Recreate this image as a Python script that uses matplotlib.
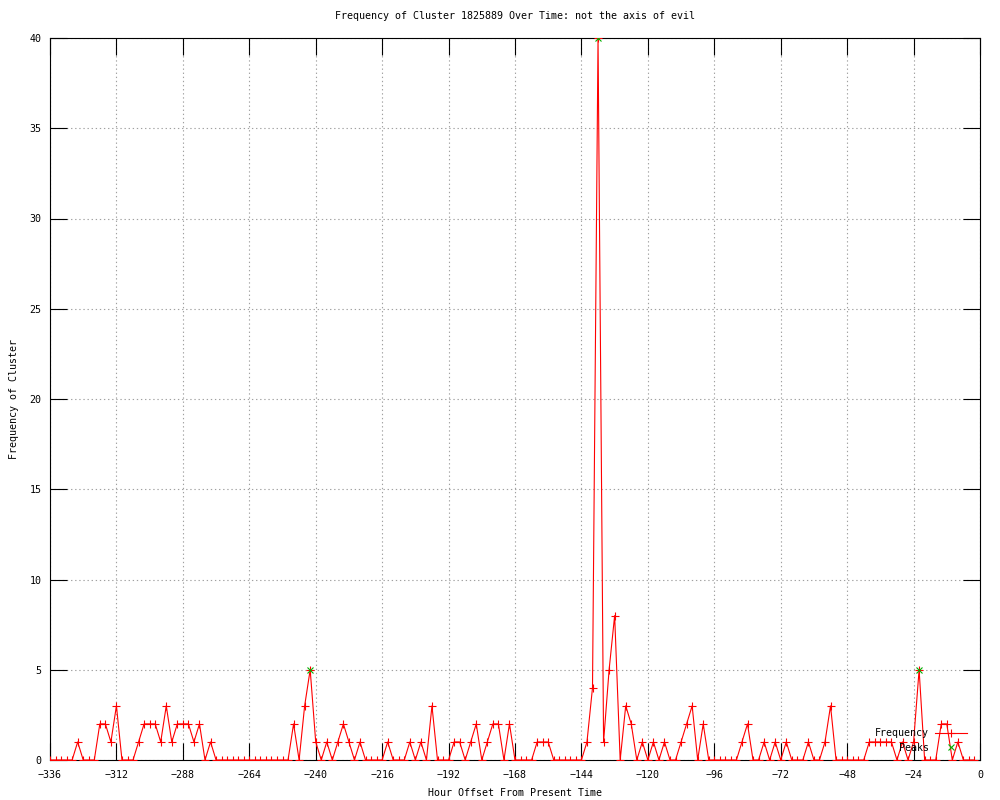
import numpy as np
import matplotlib
matplotlib.use("Agg")
import matplotlib.pyplot as plt

# hours before present, one point every 2 hours
hours = np.arange(-336, 0, 2)
freq = [0, 0, 0, 0, 0, 1, 0, 0, 0, 2, 2, 1, 3, 0, 0, 0,      # -336 .. -306
        1, 2, 2, 2, 1, 3, 1, 2, 2, 2, 1, 2, 0, 1, 0,          # -304 .. -276
        0, 0, 0, 0, 0, 0, 0, 0, 0, 0, 0, 0, 0,                # -274 .. -250
        2, 0, 3, 5, 1, 0, 1, 0, 1, 2, 1, 0, 1, 0, 0, 0, 0,    # -248 .. -216
        1, 0, 0, 0, 1, 0, 1, 0, 3, 0, 0, 0,                   # -214 .. -192
        1, 1, 0, 1, 2, 0, 1, 2, 2, 0, 2, 0,                   # -190 .. -168
        0, 0, 0, 1, 1, 1, 0, 0, 0, 0, 0, 0,                   # -166 .. -144
        1, 4, 40, 1, 5, 8, 0, 3, 2, 0, 1, 0,                  # -142 .. -120
        1, 0, 1, 0, 0, 1, 2, 3, 0, 2, 0, 0,                   # -118 .. -96
        0, 0, 0, 0, 1, 2, 0, 0, 1, 0, 1, 0,                   # -94 .. -72
        1, 0, 0, 0, 1, 0, 0, 1, 3, 0, 0, 0,                   # -70 .. -48
        0, 0, 0, 1, 1, 1, 1, 1, 0, 1, 0, 1,                   # -46 .. -24
        5, 0, 0, 0, 2, 2, 0, 1, 0, 0, 0]                      # -22 .. -2

peak_hours = [-242, -138, -22]
peak_vals = [5, 40, 5]

title = "Frequency of Cluster 1825889 Over Time: not the axis of evil"
font = "DejaVu Sans Mono"
fs = 7.2

plt.rcParams['font.family'] = font
plt.rcParams['font.size'] = fs

fig = plt.figure(figsize=(10, 8), dpi=100)
ax = fig.add_axes([0.05, 0.05, 0.93, 0.9025])

ax.plot(hours, freq, color="#ff0000", lw=0.8, marker="+", ms=6, mew=0.8,
        label="Frequency", zorder=3)
ax.plot(peak_hours, peak_vals, ls="none", color="#00b000", marker="x", ms=5,
        mew=0.8, label="Peaks", zorder=4)

ax.set_xlim(-336, 0)
ax.set_ylim(0, 40)
ax.set_xticks(np.arange(-336, 1, 24))
ax.set_yticks(np.arange(0, 41, 5))
ax.tick_params(direction="in", length=12, width=0.8, top=True, right=True,
               labelsize=fs, pad=6)
ax.tick_params(axis="x", pad=7)
ax.grid(True, color="#a0a0a0", ls=(0, (1.2, 2.5)), lw=0.8)
ax.set_axisbelow(True)
for s in ax.spines.values():
    s.set_linewidth(0.8)

ax.set_title(title, fontsize=fs, pad=14)
ax.set_xlabel("Hour Offset From Present Time", fontsize=fs, labelpad=6)
ax.set_ylabel("Frequency of Cluster", fontsize=fs, labelpad=8)

ax.legend(loc="lower right", bbox_to_anchor=(0.972, 0.053),
          bbox_transform=fig.transFigure, frameon=False, markerfirst=False,
          numpoints=1, handlelength=3.2, labelspacing=0.45, fontsize=fs,
          borderpad=0, handletextpad=0.6)

plt.savefig("out.png")
